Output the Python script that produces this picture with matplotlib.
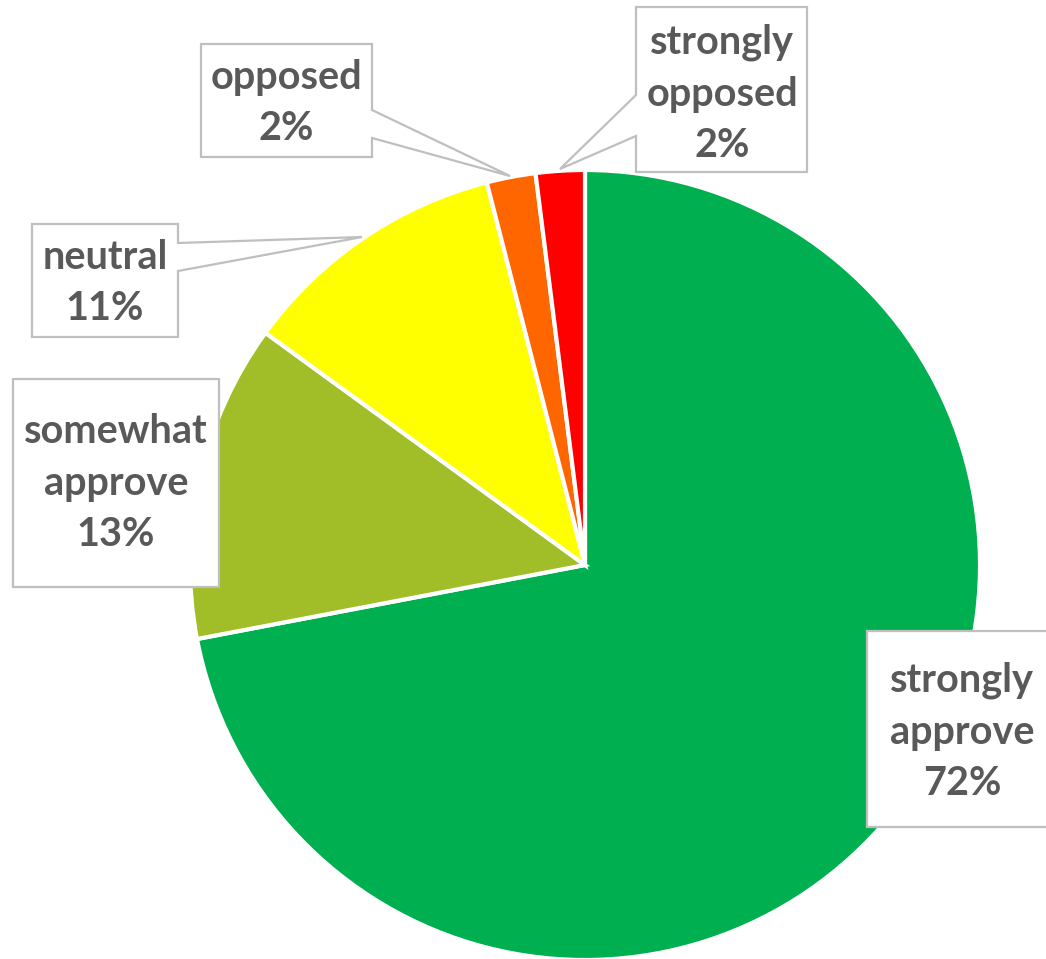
import matplotlib.pyplot as plt
from matplotlib.patches import Polygon

labels = ['strongly\napprove', 'somewhat\napprove', 'neutral', 'opposed', 'strongly\nopposed']
values = [72, 13, 11, 2, 2]
colors = ['#00B050', '#A1BD27', '#FFFF00', '#FF6600', '#FF0000']

W, H = 1046, 959

# callout boxes in pixel coords: left, top, right, bottom, wedge side, wedge y1, y2, tip
callouts = [
    dict(box=(867, 631, 1058, 827), text=(962, 732), wedge=None),
    dict(box=(13, 379, 219, 587), text=(116, 483), wedge=None),
    dict(box=(32, 224, 178, 337), text=(105, 283), wedge=('right', 243, 271, (362, 237))),
    dict(box=(201, 44, 372, 157), text=(286, 103), wedge=('right', 110, 138, (510, 176))),
    dict(box=(636, 7, 807, 172), text=(722, 94), wedge=('left', 95, 136, (560, 169))),
]


def fy(y):
    return H - y


def callout_poly(box, wedge):
    l, t, r, b = box
    if wedge is None:
        pts = [(l, t), (r, t), (r, b), (l, b)]
    elif wedge[0] == 'right':
        _, y1, y2, tip = wedge
        pts = [(l, t), (r, t), (r, y1), tip, (r, y2), (r, b), (l, b)]
    else:
        _, y1, y2, tip = wedge
        pts = [(l, t), (r, t), (r, b), (l, b), (l, y2), tip, (l, y1)]
    return [(x, fy(y)) for x, y in pts]


fig = plt.figure(figsize=(W / 100, H / 100), dpi=100)
ax = fig.add_axes([0, 0, 1, 1])

ax.pie(values, colors=colors, startangle=90, counterclock=False,
       center=(585, fy(565)), radius=395,
       wedgeprops=dict(edgecolor='white', linewidth=3))

for lab, val, c in zip(labels, values, callouts):
    ax.add_patch(Polygon(callout_poly(c['box'], c['wedge']), closed=True,
                         facecolor='white', edgecolor='#BFBFBF', linewidth=1.6,
                         zorder=5))
    ax.text(c['text'][0], fy(c['text'][1]), f'{lab}\n{val}%', ha='center', va='center',
            fontsize=28.5, fontweight='bold', family='Lato', color='#595959',
            linespacing=1.48, zorder=6)

ax.set_xlim(0, W)
ax.set_ylim(0, H)
ax.set_aspect('auto')
ax.axis('off')

fig.savefig('out.png', dpi=100)
